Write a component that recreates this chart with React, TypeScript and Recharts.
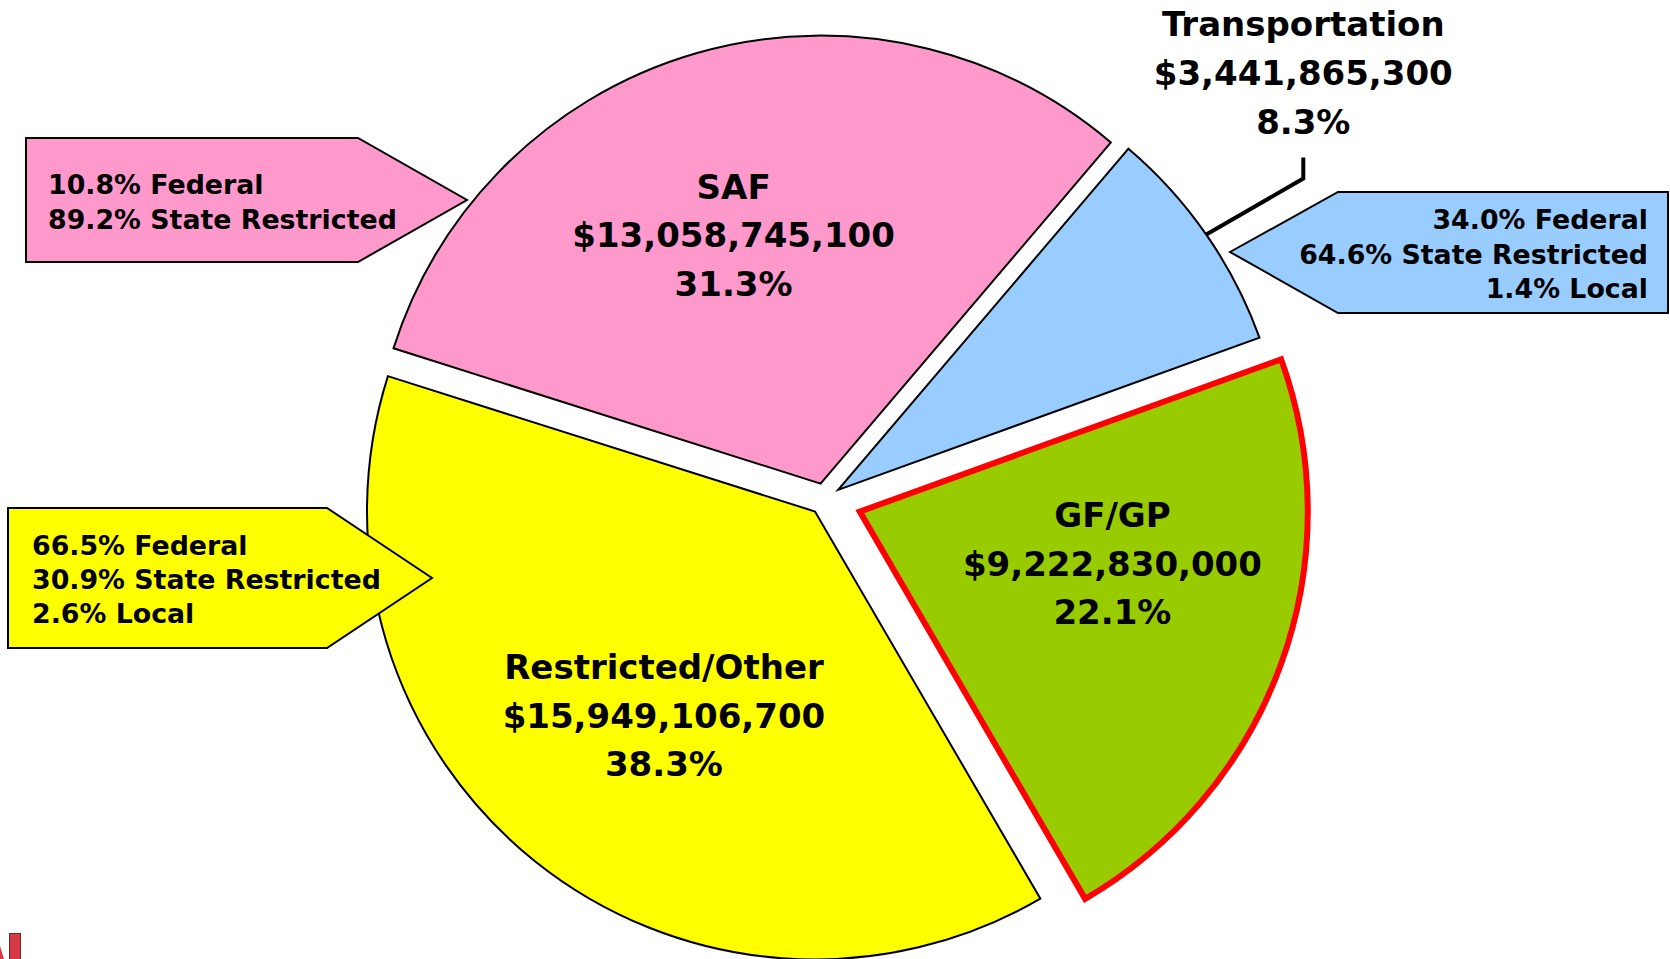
import React from 'react';
import { PieChart, Pie, Cell, Sector } from 'recharts';

// ---------- data ----------
const categories = ['GF/GP', 'Transportation', 'SAF', 'Restricted/Other'];
const amounts = [9222830000, 3441865300, 13058745100, 15949106700];
const fundSources = ['Federal', 'State Restricted', 'Local'];
const gfgpSplit: number[] = [];
const transportationSplit = [34.0, 64.6, 1.4];
const safSplit = [10.8, 89.2];
const restrictedSplit = [66.5, 30.9, 2.6];
const splits = [gfgpSplit, transportationSplit, safSplit, restrictedSplit];

const data = categories.map((name, i) => ({ name, value: amounts[i] }));
const total = amounts.reduce((a, b) => a + b, 0);

// ---------- styles / layout ----------
const W = 1670;
const H = 959;
const FONT = '"DejaVu Sans", Verdana, sans-serif';
const FILLS = ['#99CC00', '#99CCFF', '#FF99CC', '#FFFF00'];
const STROKES = ['#FF0000', '#000000', '#000000', '#000000'];
const STROKE_W = [6, 2, 2, 2];
const EXPLODE = [37, 16, 16, 16];
const RAD = Math.PI / 180;

type InsideLayout = { kind: 'inside'; r: number; shift: number };
type OutsideLayout = { kind: 'outside'; elbow: [number, number]; rise: number; gap: number };
const LABEL_LAYOUT: (InsideLayout | OutsideLayout)[] = [
  { kind: 'inside', r: 258, shift: 8.3 },
  { kind: 'outside', elbow: [97, -56], rise: 21, gap: 36 },
  { kind: 'inside', r: 263, shift: 3.3 },
  { kind: 'inside', r: 254, shift: 2.2 },
];
const LINE_STEP = 48.7;
const MAIN_SIZE = 34;

type Callout = {
  points: [number, number][];
  textX: number;
  anchor: 'start' | 'end';
  firstY: number;
  step: number;
};
const CALLOUTS: (Callout | null)[] = [
  null,
  {
    points: [[1230, 252], [1338, 192], [1668, 192], [1668, 313], [1338, 313]],
    textX: 1648, anchor: 'end', firstY: 219.5, step: 34.7,
  },
  {
    points: [[26, 138], [358, 138], [467, 200], [358, 262], [26, 262]],
    textX: 48, anchor: 'start', firstY: 184, step: 35,
  },
  {
    points: [[8, 508], [327, 508], [432, 578], [327, 648], [8, 648]],
    textX: 32, anchor: 'start', firstY: 545.5, step: 34,
  },
];
const CALLOUT_SIZE = 26.8;

// ---------- helpers ----------
const shiftPoint = (cx: number, cy: number, angle: number, d: number): [number, number] => [
  cx + d * Math.cos(-angle * RAD),
  cy + d * Math.sin(-angle * RAD),
];
const money = (v: number) => '$' + v.toLocaleString('en-US');
const pct = (p: number) => (p * 100).toFixed(1) + '%';
const indexOf = (p: any): number => {
  const n = p?.payload?.name ?? p?.name;
  const k = categories.indexOf(n);
  return k >= 0 ? k : p.index ?? 0;
};

const renderSlice = (p: any) => {
  const i = indexOf(p);
  const [x, y] = shiftPoint(p.cx, p.cy, p.midAngle, EXPLODE[i]);
  return (
    <Sector
      cx={x}
      cy={y}
      innerRadius={0}
      outerRadius={p.outerRadius}
      startAngle={p.startAngle}
      endAngle={p.endAngle}
      fill={FILLS[i]}
      stroke={STROKES[i]}
      strokeWidth={STROKE_W[i]}
      strokeLinejoin="miter"
    />
  );
};

const renderLabel = (p: any) => {
  const i = indexOf(p);
  const [ex, ey] = shiftPoint(p.cx, p.cy, p.midAngle, EXPLODE[i]);
  const percent = typeof p.percent === 'number' ? p.percent : amounts[i] / total;
  const lines = [categories[i], money(amounts[i]), pct(percent)];
  const cfg = LABEL_LAYOUT[i];
  const parts: React.ReactNode[] = [];

  if (cfg.kind === 'inside') {
    const [lx, ly] = shiftPoint(ex, ey, p.midAngle + cfg.shift, cfg.r);
    lines.forEach((t, k) => {
      parts.push(
        <text key={'m' + k} x={lx} y={ly + (k - 1) * LINE_STEP} textAnchor="middle"
          dominantBaseline="central" fontFamily={FONT} fontWeight="bold"
          fontSize={MAIN_SIZE} fill="#000">{t}</text>
      );
    });
  } else {
    const [sx, sy] = shiftPoint(ex, ey, p.midAngle, p.outerRadius);
    const bx = sx + cfg.elbow[0];
    const by = sy + cfg.elbow[1];
    const ty = by - cfg.rise;
    parts.push(
      <polyline key="leader" points={`${sx},${sy} ${bx},${by} ${bx},${ty}`}
        fill="none" stroke="#000" strokeWidth={4} strokeLinejoin="miter" />
    );
    lines.forEach((t, k) => {
      parts.push(
        <text key={'m' + k} x={bx} y={ty - cfg.gap - (2 - k) * LINE_STEP} textAnchor="middle"
          dominantBaseline="central" fontFamily={FONT} fontWeight="bold"
          fontSize={MAIN_SIZE} fill="#000">{t}</text>
      );
    });
  }

  const c = CALLOUTS[i];
  if (c && splits[i].length) {
    parts.push(
      <polygon key="box" points={c.points.map((q) => q.join(',')).join(' ')}
        fill={FILLS[i]} stroke="#000" strokeWidth={2} strokeLinejoin="miter" />
    );
    splits[i].forEach((v, k) => {
      parts.push(
        <text key={'c' + k} x={c.textX} y={c.firstY + k * c.step} textAnchor={c.anchor}
          dominantBaseline="central" fontFamily={FONT} fontWeight="bold"
          fontSize={CALLOUT_SIZE} fill="#000">{`${v.toFixed(1)}% ${fundSources[k]}`}</text>
      );
    });
  }
  return <g key={'lbl' + i}>{parts}</g>;
};

export default function App() {
  return (
    <div style={{ position: 'absolute', left: 0, top: 0, width: W, height: H, background: '#fff', overflow: 'hidden' }}>
      <PieChart width={W} height={H} margin={{ top: 0, right: 0, bottom: 0, left: 0 }}>
        <Pie
          data={data}
          dataKey="value"
          nameKey="name"
          cx={825}
          cy={499}
          innerRadius={0}
          outerRadius={448}
          startAngle={-59.8}
          endAngle={300.2}
          isAnimationActive={false}
          shape={renderSlice}
          label={renderLabel}
          labelLine={false}
        >
          {data.map((d, i) => (
            <Cell key={d.name} fill={FILLS[i]} stroke={STROKES[i]} strokeWidth={STROKE_W[i]} />
          ))}
        </Pie>
      </PieChart>
      <svg width={W} height={H} style={{ position: 'absolute', left: 0, top: 0, pointerEvents: 'none' }}>
        <rect x={9.5} y={933.5} width={11} height={30} fill="#D63A45" stroke="#6b2a2a" strokeWidth={1} />
        <polygon points="0,946 4,959 0,959" fill="#D63A45" />
      </svg>
    </div>
  );
}
